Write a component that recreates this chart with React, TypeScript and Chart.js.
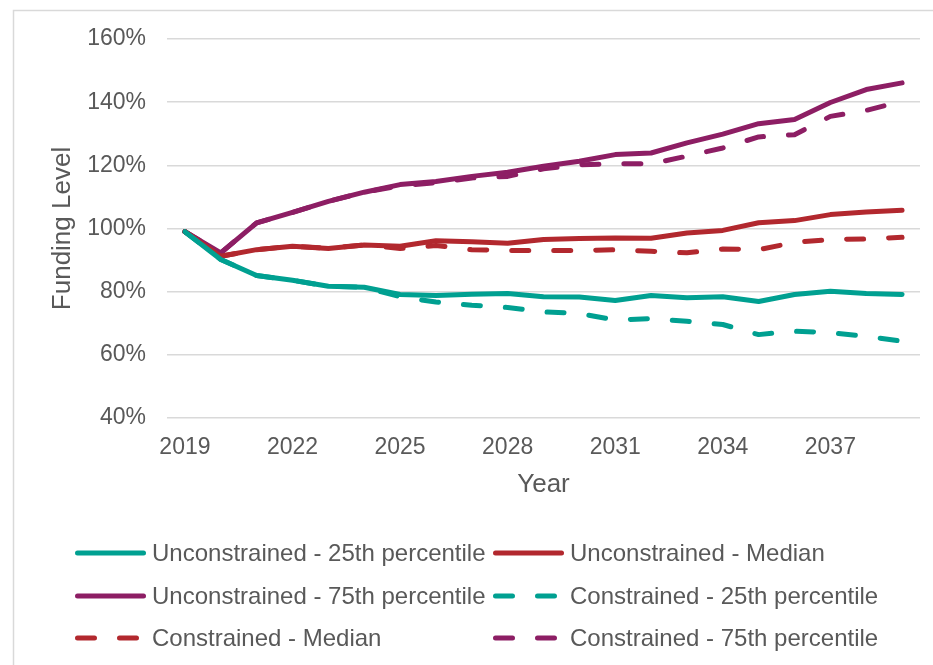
import React, { useEffect, useRef } from "react";
import { Chart, registerables } from "chart.js";

Chart.register(...registerables);

const years = [
  "2019", "2020", "2021", "2022", "2023", "2024", "2025", "2026", "2027", "2028", "2029",
  "2030", "2031", "2032", "2033", "2034", "2035", "2036", "2037", "2038", "2039",
];

const unconstrained25 = [99, 90.2, 85.1, 83.6, 81.7, 81.4, 79.1, 78.8, 79.2, 79.4, 78.4, 78.3, 77.2, 78.8, 78.1, 78.4, 76.9, 79.1, 80.1, 79.4, 79.1];
const unconstrainedMedian = [99, 91.2, 93.3, 94.4, 93.7, 94.8, 94.4, 96.1, 95.8, 95.3, 96.5, 96.8, 97.0, 96.9, 98.6, 99.4, 101.8, 102.5, 104.4, 105.2, 105.8];
const unconstrained75 = [99, 92.3, 101.8, 105.1, 108.6, 111.5, 113.9, 114.9, 116.5, 117.8, 119.7, 121.3, 123.4, 123.9, 127.1, 129.9, 133.2, 134.5, 139.9, 144.0, 146.1];
const constrained25 = [99, 90.2, 85.1, 83.6, 81.7, 81.4, 78.4, 76.7, 75.7, 75.0, 73.6, 73.1, 71.0, 71.5, 70.6, 69.6, 66.4, 67.5, 67.0, 65.9, 64.3];
const constrainedMedian = [99, 91.2, 93.3, 94.4, 93.7, 94.8, 93.7, 94.6, 93.3, 93.0, 93.0, 93.0, 93.3, 92.8, 92.3, 93.5, 93.3, 95.6, 96.5, 96.7, 97.2];
const constrained75 = [99, 92.3, 101.8, 105.1, 108.6, 111.5, 113.5, 114.5, 116.0, 116.5, 118.9, 120.2, 120.5, 120.5, 122.9, 125.5, 129.0, 129.7, 135.5, 137.4, 140.3];

const seriesNames = [
  "Unconstrained - 25th percentile",
  "Unconstrained - Median",
  "Unconstrained - 75th percentile",
  "Constrained - 25th percentile",
  "Constrained - Median",
  "Constrained - 75th percentile",
];

const TEAL = "#00A091";
const RED = "#B2282E";
const PURPLE = "#8D1E64";
const TEXT = "#595959";
const GRID = "#D9D9D9";
const FONT = '"Liberation Sans", Arial, sans-serif';
const DASH = [17, 25];

const frameLegendPlugin = {
  id: "frameLegend",
  beforeDraw(chart: any) {
    const ctx = chart.ctx;
    ctx.save();
    ctx.strokeStyle = GRID;
    ctx.lineWidth = 1.5;
    ctx.strokeRect(13.5, 10.5, 1200, 1200);
    ctx.restore();
  },
  afterDraw(chart: any) {
    const ctx = chart.ctx;
    const colX = [75, 493];
    const rowY = [553, 596, 638];
    const lineLen = 71;
    ctx.save();
    ctx.font = `24px ${FONT}`;
    ctx.textBaseline = "middle";
    ctx.textAlign = "left";
    chart.data.datasets.forEach((ds: any, i: number) => {
      const col = i % 2;
      const row = Math.floor(i / 2);
      const x = colX[col];
      const y = rowY[row];
      ctx.strokeStyle = ds.borderColor;
      ctx.lineWidth = 5;
      ctx.lineCap = "round";
      ctx.setLineDash(ds.borderDash && ds.borderDash.length ? DASH : []);
      ctx.beginPath();
      ctx.moveTo(x + 2.5, y);
      ctx.lineTo(x + lineLen - 2.5, y);
      ctx.stroke();
      ctx.setLineDash([]);
      ctx.fillStyle = TEXT;
      ctx.fillText(ds.label, x + lineLen + 6, y + 1);
    });
    ctx.restore();
  },
};

export default function App() {
  const canvasRef = useRef<HTMLCanvasElement | null>(null);

  useEffect(() => {
    document.body.style.margin = "0";
    const canvas = canvasRef.current;
    if (!canvas) return;
    const mk = (label: string, data: number[], color: string, dashed: boolean) => ({
      label,
      data,
      borderColor: color,
      backgroundColor: color,
      borderWidth: 5,
      borderDash: dashed ? DASH : [],
      borderCapStyle: "round" as const,
      borderJoinStyle: "round" as const,
      pointRadius: 0,
      pointHoverRadius: 0,
      tension: 0,
      fill: false,
    });
    const chart = new Chart(canvas, {
      type: "line",
      data: {
        labels: years,
        datasets: [
          mk(seriesNames[0], unconstrained25, TEAL, false),
          mk(seriesNames[1], unconstrainedMedian, RED, false),
          mk(seriesNames[2], unconstrained75, PURPLE, false),
          mk(seriesNames[3], constrained25, TEAL, true),
          mk(seriesNames[4], constrainedMedian, RED, true),
          mk(seriesNames[5], constrained75, PURPLE, true),
        ],
      },
      options: {
        animation: false,
        responsive: true,
        maintainAspectRatio: false,
        layout: { padding: { top: 39, right: 13, bottom: 165, left: 0 } },
        plugins: {
          legend: { display: false },
          tooltip: { enabled: false },
        },
        scales: {
          x: {
            type: "category",
            offset: true,
            grid: { display: false, drawTicks: false },
            border: { display: false },
            ticks: {
              autoSkip: false,
              maxRotation: 0,
              padding: 16,
              color: TEXT,
              font: { family: FONT, size: 23 },
              callback: (_v: any, idx: number) => (idx % 3 === 0 ? years[idx] : ""),
            },
            title: {
              display: true,
              text: "Year",
              color: TEXT,
              font: { family: FONT, size: 26 },
              padding: { top: 0, bottom: 0 },
            },
            afterFit: (scale: any) => {
              scale.height = 82;
            },
          },
          y: {
            min: 40,
            max: 160,
            grid: { color: GRID, lineWidth: 1.5, drawTicks: false },
            border: { display: false },
            ticks: {
              stepSize: 20,
              padding: 21,
              color: TEXT,
              font: { family: FONT, size: 23 },
              callback: (v: any) => `${v}%`,
            },
            title: {
              display: true,
              text: "Funding Level",
              color: TEXT,
              font: { family: FONT, size: 26 },
              padding: { top: 47, bottom: 0 },
            },
            afterFit: (scale: any) => {
              scale.width = 167;
            },
          },
        },
      },
      plugins: [frameLegendPlugin],
    });
    return () => chart.destroy();
  }, []);

  return (
    <div style={{ width: 933, height: 665, position: "relative", background: "#fff" }}>
      <canvas ref={canvasRef} />
    </div>
  );
}
